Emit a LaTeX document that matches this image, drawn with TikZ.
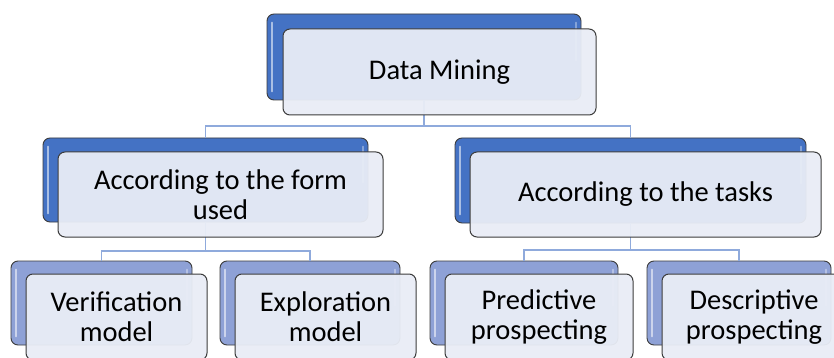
\documentclass[tikz,border=0pt]{standalone}
\usepackage{fontspec}
\setmainfont{Carlito}
\definecolor{dk}{HTML}{4472C4}
\definecolor{lt}{HTML}{8EA1D6}
\definecolor{frontfill}{HTML}{E9EDF6}
\definecolor{conn}{HTML}{8FAADC}
\definecolor{edgec}{HTML}{3C3C3C}
\tikzset{
 backbox/.style={draw=edgec, line width=0.9pt, rounded corners=7pt, inner sep=0pt},
 dkbox/.style={backbox, fill=dk},
 ltbox/.style={backbox, fill=lt},
 frontbox/.style={draw=edgec, line width=1pt, rounded corners=7pt, fill=frontfill, fill opacity=0.95, text opacity=1, align=center, font=\fontsize{28.5}{30}\selectfont, inner sep=0pt},
 link/.style={draw=conn, line width=1.2pt},
 hl/.style={draw=white, line width=2pt, opacity=0.55, line cap=round}
}
\begin{document}
\begin{tikzpicture}[x=1pt,y=-1pt]
\useasboundingbox (0,0) rectangle (834,358);
\clip (0,0) rectangle (834,358);
\fill[white] (0,0) rectangle (834,358);
% back boxes
\node[dkbox, minimum width=314, minimum height=86] (b0) at (424,57) {};
\node[dkbox, minimum width=325, minimum height=84] (b1) at (205.5,180) {};
\node[dkbox, minimum width=351, minimum height=85] (b2) at (630.5,180.5) {};
\node[ltbox, minimum width=181, minimum height=84] (b3) at (101.5,303) {};
\node[ltbox, minimum width=180, minimum height=84] (b4) at (310,303) {};
\node[ltbox, minimum width=188, minimum height=84] (b5) at (524,303) {};
\node[ltbox, minimum width=184, minimum height=84] (b6) at (739,303) {};
% junctions
\coordinate (j0) at (424,126);
\coordinate (j1) at (205.5,251);
\coordinate (j2) at (630.5,250);
% connectors
\draw[link] (b0.south) -- (j0) -| (b1.north);
\draw[link] (j0) -| (b2.north);
\draw[link] (b1.south) -- (j1) -| (b3.north);
\draw[link] (j1) -| (b4.north);
\draw[link] (b2.south) -- (j2) -| (b5.north);
\draw[link] (j2) -| (b6.north);
% highlights
\foreach \n in {b0,b1,b2,b3,b4,b5,b6}{
  \draw[hl] ([shift={(5,9)}]\n.north west) -- ([shift={(5,-9)}]\n.south west);
  \draw[hl, opacity=0.35] ([shift={(-5,9)}]\n.north east) -- ([shift={(-5,-40)}]\n.south east);
}
% front boxes
\node[frontbox, minimum width=313, minimum height=86] (f0) at (439.5,72) {Data Mining};
\node[frontbox, minimum width=325, minimum height=85] (f1) at (220.5,194.5) {According to the form\\used};
\node[frontbox, minimum width=351, minimum height=85] (f2) at (645.5,194.5) {According to the tasks};
\node[frontbox, minimum width=181, minimum height=86] (f3) at (116.5,317) {Verification\\model};
\node[frontbox, minimum width=181, minimum height=86] (f4) at (325.5,317) {Exploration\\model};
\node[frontbox, minimum width=188, minimum height=86] (f5) at (539,317) {Predictive\\prospecting};
\node[frontbox, minimum width=184, minimum height=86] (f6) at (754,317) {Descriptive\\prospecting};
\end{tikzpicture}
\end{document}
